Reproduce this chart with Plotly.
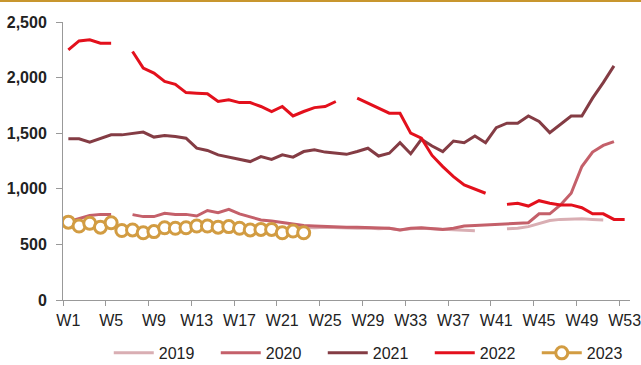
import plotly.graph_objects as go

weeks = list(range(1, 54))
week_labels = [f"W{w}" for w in range(1, 54, 4)]
week_label_pos = list(range(1, 54, 4))

N = None
y2019 = [N]*21 + [660, 655, 650, 655, 650, 648, 645, 648, 640, 645, 630, 640, 645, 640,
                  635, 630, 625, 622, N, N, 640, 645, 660, 690, 715, 725, 730, 730, 725, 720]
y2020 = [705, 735, 760, 770, 770, N, 768, 750, 750, 780, 770, 770, 755, 805, 785, 815, 775,
         745, 720, 710, 695, 680, 670, 665, 660, 660, 655, 655, 650, 650, 645, 630, 645, 650,
         645, 635, 645, 665, 670, 675, 675, 680, 685, 695, 775, 775, 855, 960, 1200, 1330,
         1390, 1425]
y2021 = [1450, 1450, 1420, 1455, 1485, 1485, 1500, 1510, 1465, 1480, 1470, 1455, 1365, 1345,
         1305, 1285, 1260, 1245, 1290, 1265, 1305, 1285, 1335, 1350, 1330, 1320, 1310, 1335,
         1365, 1295, 1320, 1415, 1315, 1445, 1385, 1335, 1430, 1415, 1475, 1415, 1550, 1590,
         1590, 1655, 1605, 1505, 1580, 1655, 1655, 1815, 1955, 2105]
y2022 = [2250, 2330, 2340, 2310, 2310, N, 2235, 2085, 2040, 1965, 1940, 1865, 1860, 1855,
         1785, 1800, 1775, 1775, 1740, 1695, 1740, 1655, 1695, 1730, 1740, 1785, N, 1815,
         1770, 1725, 1680, 1680, 1500, 1455, 1300, 1200, 1110, 1035, 995, 960, N, 860, 870,
         845, 893, 870, 855, 855, 830, 775, 775, 725, 725]
y2023 = [700, 665, 690, 655, 695, 625, 630, 605, 615, 650, 645, 650, 665, 665, 655, 660, 645,
         630, 635, 635, 605, 620, 605]

FONT = "Liberation Sans, Arial, sans-serif"

fig = go.Figure()
series = [
    ("2019", y2019, "#D9AEB3", 3),
    ("2020", y2020, "#C4606A", 3),
    ("2021", y2021, "#843C44", 3),
    ("2022", y2022, "#E3101C", 3),
]
for name, ys, col, w in series:
    fig.add_trace(go.Scatter(x=weeks[:len(ys)], y=ys, name=name, mode="lines",
                             line=dict(color=col, width=w), connectgaps=False))
fig.add_trace(go.Scatter(x=weeks[:len(y2023)], y=y2023, name="2023", mode="lines+markers",
                         line=dict(color="#D29C42", width=3),
                         marker=dict(size=12, color="white",
                                     line=dict(color="#D29C42", width=3))))

fig.update_layout(
    width=641, height=365,
    margin=dict(l=63, r=11, t=22, b=65),
    paper_bgcolor="white", plot_bgcolor="white",
    font=dict(family=FONT, size=16, color="#222"),
    showlegend=True,
    legend=dict(orientation="h", xref="container", x=0.587, xanchor="center",
                yref="container", y=0.033, yanchor="middle",
                font=dict(size=16), itemwidth=40, entrywidth=52, entrywidthmode="pixels"),
    xaxis=dict(range=[0.5, 53.5], tickmode="array", tickvals=week_label_pos,
               ticktext=week_labels, ticks="outside", ticklen=6,
               tickcolor="rgba(0,0,0,0)", showline=True, linecolor="#999",
               linewidth=1, showgrid=False, zeroline=False, automargin=False,
               ticklabeloverflow="allow",
               minor=dict(tickmode="linear", tick0=0.5, dtick=4, ticks="outside",
                          ticklen=5, tickcolor="#999", showgrid=False)),
    yaxis=dict(range=[0, 2500], tickmode="linear", tick0=0, dtick=500, tickformat=",",
               ticks="outside", ticklen=6, tickcolor="#999", showline=True,
               linecolor="#999", linewidth=1, showgrid=False, zeroline=False,
               automargin=False, ticklabelstandoff=6,
               tickfont=dict(size=16, weight="bold")),
    shapes=[dict(type="line", xref="paper", yref="paper", x0=-0.2, x1=1.1,
                 y0=1.0755, y1=1.0755, line=dict(color="#C8962E", width=2))],
)

fig.write_html("out.html", config={"displayModeBar": False},
               post_script="document.body.style.margin='0';")
